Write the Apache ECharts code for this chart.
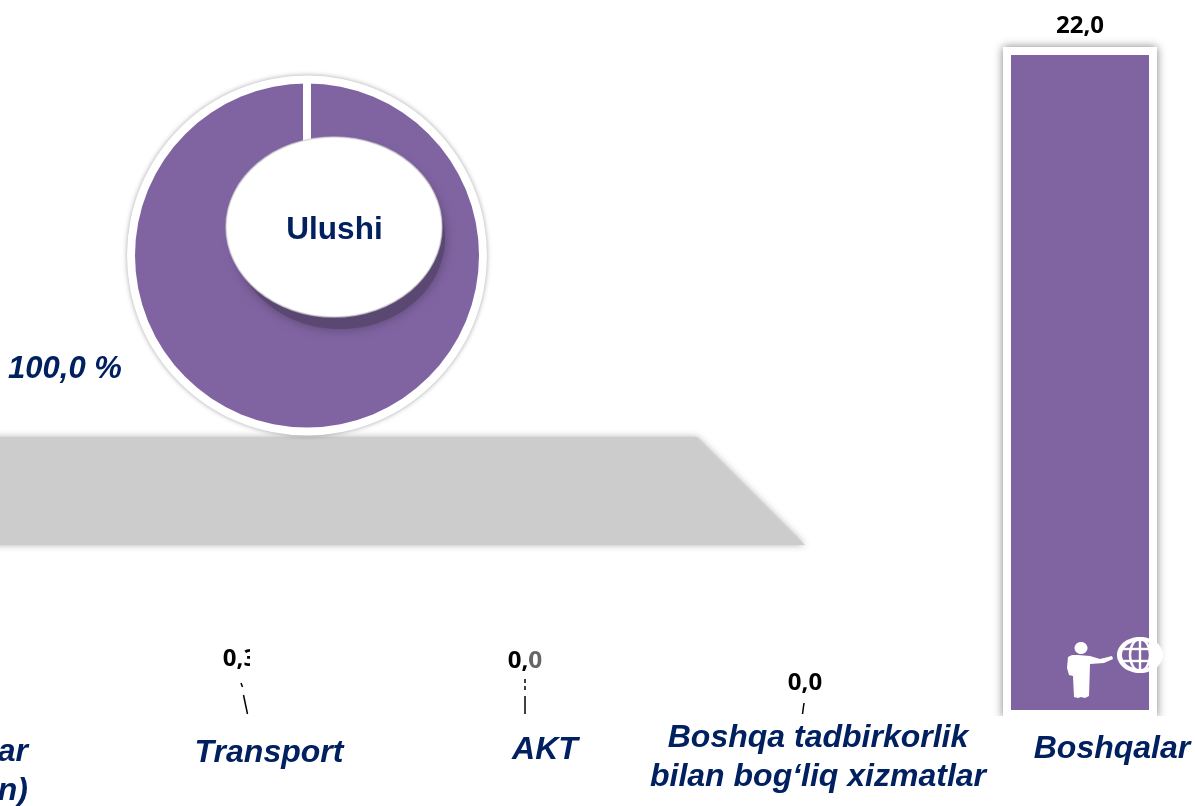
<!DOCTYPE html>
<html>
<head>
<meta charset="utf-8">
<style>html,body{margin:0;padding:0;background:#fff}#c{width:1195px;height:806px}</style>
<script src="https://cdn.jsdelivr.net/npm/echarts@6/dist/echarts.min.js"></script>
</head>
<body>
<div id="c"></div>
<script>
var categories = ['', 'Transport', 'AKT', 'Boshqa tadbirkorlik\nbilan bog‘liq xizmatlar', 'Boshqalar'];
var barValues = [null, 0.3, 0.0, 0.0, 22.0];
var shareName = 'Ulushi';
var shareValues = [100.0];
var clippedCategory = 'ar\nn)';

var PURPLE = '#8064a2', NAVY = '#002060';
var chart = echarts.init(document.getElementById('c'), null, {renderer: 'canvas'});

function catLabel(text, x, y, align) {
  return {type: 'text', z: 30, x: x, y: y, style: {
    text: text, x: 0, y: 0, fill: NAVY, align: align || 'center', verticalAlign: 'middle',
    font: 'italic bold 32px "Liberation Sans"', lineHeight: 39
  }};
}
function leader(x1, y1, x2, y2, dash) {
  return {type: 'line', z: 20, shape: {x1: x1, y1: y1, x2: x2, y2: y2},
    style: {stroke: '#000', lineWidth: 1.5, lineDash: dash}};
}
function gridLine(x1, y1, x2, y2) {
  return {type: 'line', z: 27, shape: {x1: x1, y1: y1, x2: x2, y2: y2}, style: {stroke: '#fff', lineWidth: 2.4}};
}
function fmt(v) { return v.toFixed(1).replace('.', ','); }

var globeCells = [];
for (var a = 40; a <= 320; a += 10) {
  globeCells.push([1140 + 18 * Math.cos(a * Math.PI / 180), 655 + 14 * Math.sin(a * Math.PI / 180)]);
}
globeCells = globeCells.map(function (p) { return [Math.min(p[0], 1149), p[1]]; });

var barOffsets = [null, [-6, -33], [1, -40], [3, -18], [0, -4]];
var barData = barValues.map(function (v, i) {
  var big = v > 1;
  return {
    value: v,
    itemStyle: big ? {} : {color: 'transparent', borderWidth: 0},
    label: {show: v !== null, offset: barOffsets[i] || [0, 0]}
  };
});

chart.setOption({
  animation: false,
  backgroundColor: '#fff',
  tooltip: {show: false},
  grid: {left: -171, width: 1390, top: 47, height: 671, containLabel: false, outerBoundsMode: 'none'},
  xAxis: {type: 'category', data: categories, show: false},
  yAxis: {type: 'value', min: 0, max: 22, show: false, splitLine: {show: false}},
  series: [
    {
      type: 'pie', z: 2, silent: true,
      center: [307, 255.5], radius: [0, 180], startAngle: 90,
      data: shareValues.map(function (v) { return {value: v}; }),
      itemStyle: {color: '#fff', shadowBlur: 5, shadowColor: 'rgba(0,0,0,0.35)'},
      label: {show: false}, labelLine: {show: false},
      emphasis: {disabled: true}
    },
    {
      type: 'pie', z: 3, silent: true,
      center: [307, 255.5], radius: [0, 172], startAngle: 90,
      data: shareValues.map(function (v) { return {value: v, name: shareName}; }),
      itemStyle: {color: PURPLE},
      label: {show: true, position: 'outside', formatter: function (p) { return p.value.toFixed(1).replace('.', ',') + ' %'; },
        fontStyle: 'italic', fontWeight: 'bold', fontSize: 31,
        fontFamily: 'Liberation Sans', color: NAVY},
      labelLine: {show: false},
      labelLayout: {x: 65, y: 369, align: 'center', verticalAlign: 'middle', hideOverlap: false},
      emphasis: {disabled: true}
    },
    {
      type: 'bar', z: 4, barWidth: 154, silent: true,
      data: barData,
      itemStyle: {color: PURPLE, borderColor: '#fff', borderWidth: 8},
      label: {position: 'top', distance: 5, formatter: function (p) { return fmt(p.value); },
        color: '#000', fontFamily: 'Open Sans', fontWeight: 'bold', fontSize: 24},
      emphasis: {disabled: true}
    }
  ],
  graphic: {elements: [
    {type: 'polygon', z: 1, shape: {points: [[-20, 437], [697, 437], [805, 545], [-20, 545]]},
      style: {fill: '#cccccc', shadowBlur: 7, shadowColor: 'rgba(170,170,170,0.9)'}},
    {type: 'rect', z: 1, shape: {x: 1003, y: 47, width: 154, height: 671, r: 2},
      style: {fill: '#fff', shadowBlur: 10, shadowColor: 'rgba(0,0,0,0.5)'}},
    {type: 'rect', z: 6, shape: {x: 303, y: 78, width: 8, height: 70}, style: {fill: '#fff'}},
    {type: 'ellipse', z: 7, shape: {cx: 340, cy: 238, rx: 105, ry: 91},
      style: {fill: '#5a4872', shadowBlur: 12, shadowColor: '#5a4872'}},
    {type: 'ellipse', z: 8, shape: {cx: 334, cy: 227, rx: 108, ry: 90},
      style: {fill: '#fff', stroke: 'rgba(205,205,205,0.7)', lineWidth: 1.5}},
    {type: 'text', z: 9, x: 334.5, y: 230, style: {text: shareName, x: 0, y: 0, fill: NAVY, align: 'center',
      verticalAlign: 'middle', font: 'bold 31.5px "Liberation Sans"'}},

    {type: 'rect', z: 5, shape: {x: 0, y: 716, width: 1195, height: 90}, style: {fill: '#fff'}},
    {type: 'rect', z: 25, shape: {x: 250, y: 640, width: 8, height: 34}, style: {fill: '#fff'}},
    {type: 'rect', z: 25, shape: {x: 530, y: 648, width: 13, height: 24}, style: {fill: 'rgba(255,255,255,0.4)'}},

    leader(241, 683, 242.5, 687, null),
    leader(243.5, 695, 247.5, 714, null),
    leader(525, 679, 525, 692, [4, 3]),
    leader(525, 696, 525, 714, null),
    leader(804, 703, 802.5, 714, null),

    catLabel(clippedCategory, 28, 772, 'right'),
    catLabel(categories[1], 269, 753),
    catLabel(categories[2], 545, 750),
    catLabel(categories[3], 818, 758),
    catLabel(categories[4], 1112, 749),

    {type: 'ellipse', z: 26, shape: {cx: 1081, cy: 648, rx: 6.5, ry: 6}, style: {fill: '#fff'}},
    {type: 'polygon', z: 26, shape: {points: [[1068, 657], [1072, 655], [1078, 655], [1090, 656], [1100, 659], [1112, 656],
      [1113, 659], [1104, 663], [1090, 664], [1089, 696], [1085, 698], [1081, 697], [1078, 698], [1074, 697], [1073, 676], [1069, 675], [1067, 668]]},
      style: {fill: '#fff'}},
    {type: 'ellipse', z: 26, shape: {cx: 1140, cy: 655, rx: 23, ry: 18}, style: {fill: '#fff'}},
    {type: 'polygon', z: 26, shape: {points: globeCells}, style: {fill: PURPLE}},
    gridLine(1120, 649, 1150, 649),
    gridLine(1120, 661, 1150, 661),
    gridLine(1140, 638, 1140, 672),
    {type: 'ellipse', z: 27, shape: {cx: 1140, cy: 655, rx: 10, ry: 16}, style: {fill: 'none', stroke: '#fff', lineWidth: 2.4}}
  ]}
});
</script>
</body>
</html>
